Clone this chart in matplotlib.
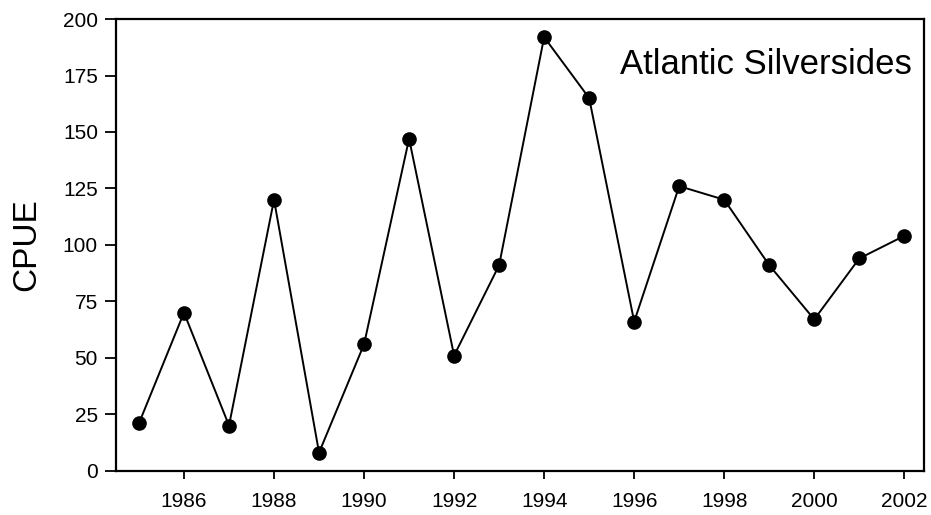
import numpy as np
import matplotlib
matplotlib.use("Agg")
import matplotlib.pyplot as plt

plt.rcParams['font.family'] = ['Liberation Sans', 'DejaVu Sans']

years = [1985, 1986, 1987, 1988, 1989, 1990, 1991, 1992, 1993,
         1994, 1995, 1996, 1997, 1998, 1999, 2000, 2001, 2002]
cpue = [21, 70, 20, 120, 8, 56, 147, 51, 91,
        192, 165, 66, 126, 120, 91, 67, 94, 104]
xticks = list(range(1986, 2003, 2))
yticks = list(range(0, 201, 25))

fig = plt.figure(figsize=(9.31, 5.15), dpi=100)
ax = fig.add_axes([0.1246, 0.086, 0.868, 0.877])

ax.plot(years, cpue, color="black", lw=1.4, marker="o", ms=9.5,
        markerfacecolor="black", markeredgecolor="black")

ax.set_xlim(1984.49, 2002.44)
ax.set_ylim(0, 200)
ax.set_xticks(xticks)
ax.set_yticks(yticks)
ax.tick_params(axis="both", labelsize=15, width=1.3, direction="out")
ax.tick_params(axis="y", length=8, pad=5)
ax.tick_params(axis="x", length=6, pad=9)
for s in ax.spines.values():
    s.set_linewidth(1.6)

ax.set_ylabel("CPUE", fontsize=24, labelpad=15)
ax.text(0.985, 0.9, "Atlantic Silversides", transform=ax.transAxes,
        ha="right", va="center", fontsize=25)

fig.savefig("out.png", dpi=100)
